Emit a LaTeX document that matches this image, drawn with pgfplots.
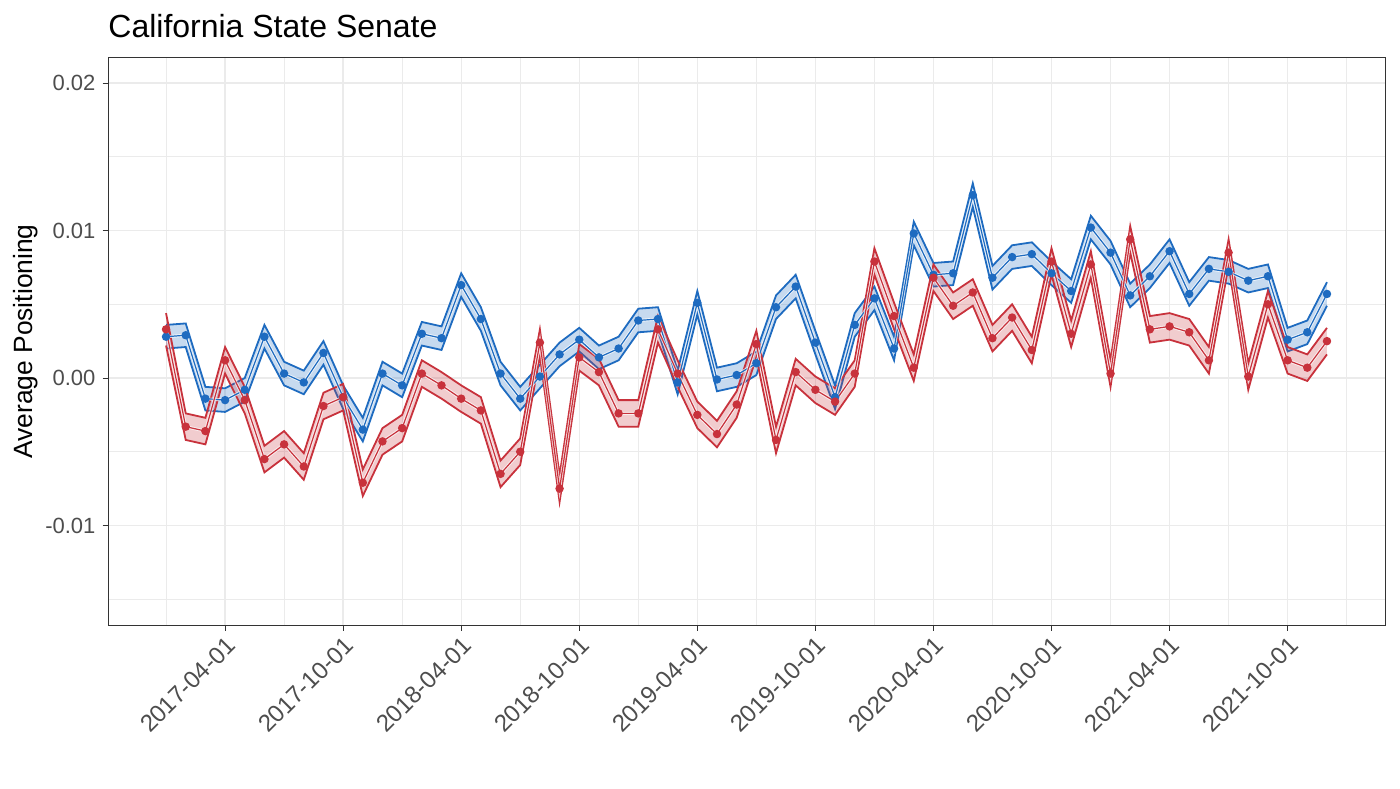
\documentclass[border=0pt]{standalone}
\usepackage{fontspec}
\setmainfont{Liberation Sans}
\usepackage{pgfplots}
\usepackage{pgfplotstable}
\pgfplotsset{compat=1.18}
\definecolor{bl}{RGB}{30,107,192}
\definecolor{rd}{RGB}{200,50,60}
\definecolor{gridc}{RGB}{235,235,235}
\definecolor{axc}{RGB}{51,51,51}
\definecolor{tkc}{RGB}{77,77,77}

\pgfplotstableread{
m b blo bhi
0 0.0028 0.0020 0.0036
1 0.0029 0.0021 0.0037
2 -0.0014 -0.0022 -0.0006
3 -0.0015 -0.0023 -0.0007
4 -0.0008 -0.0016 0.0000
5 0.0028 0.0020 0.0036
6 0.0003 -0.0005 0.0011
7 -0.0003 -0.0011 0.0005
8 0.0017 0.0009 0.0025
9 -0.0013 -0.0021 -0.0005
10 -0.0035 -0.0043 -0.0027
11 0.0003 -0.0005 0.0011
12 -0.0005 -0.0013 0.0003
13 0.0030 0.0022 0.0038
14 0.0027 0.0019 0.0035
15 0.0063 0.0055 0.0071
16 0.0040 0.0032 0.0048
17 0.0003 -0.0005 0.0011
18 -0.0014 -0.0022 -0.0006
19 0.0001 -0.0007 0.0009
20 0.0016 0.0008 0.0024
21 0.0026 0.0018 0.0034
22 0.0014 0.0006 0.0022
23 0.0020 0.0012 0.0028
24 0.0039 0.0031 0.0047
25 0.0040 0.0032 0.0048
26 -0.0003 -0.0011 0.0005
27 0.0051 0.0043 0.0059
28 -0.0001 -0.0009 0.0007
29 0.0002 -0.0006 0.0010
30 0.0010 0.0002 0.0018
31 0.0048 0.0040 0.0056
32 0.0062 0.0054 0.0070
33 0.0024 0.0016 0.0032
34 -0.0013 -0.0021 -0.0005
35 0.0036 0.0028 0.0044
36 0.0054 0.0046 0.0062
37 0.0020 0.0012 0.0028
38 0.0098 0.0090 0.0106
39 0.0070 0.0062 0.0078
40 0.0071 0.0063 0.0079
41 0.0124 0.0116 0.0132
42 0.0068 0.0060 0.0076
43 0.0082 0.0074 0.0090
44 0.0084 0.0076 0.0092
45 0.0071 0.0063 0.0079
46 0.0059 0.0051 0.0067
47 0.0102 0.0094 0.0110
48 0.0085 0.0077 0.0093
49 0.0056 0.0048 0.0064
50 0.0069 0.0061 0.0077
51 0.0086 0.0078 0.0094
52 0.0057 0.0049 0.0065
53 0.0074 0.0066 0.0082
54 0.0072 0.0064 0.0080
55 0.0066 0.0058 0.0074
56 0.0069 0.0061 0.0077
57 0.0026 0.0018 0.0034
58 0.0031 0.0023 0.0039
59 0.0057 0.0049 0.0065
}\bluetab

\pgfplotstableread{
m r rlo rhi
0 0.0033 0.0022 0.0044
1 -0.0033 -0.0042 -0.0024
2 -0.0036 -0.0045 -0.0027
3 0.0012 0.0003 0.0021
4 -0.0015 -0.0024 -0.0006
5 -0.0055 -0.0064 -0.0046
6 -0.0045 -0.0054 -0.0036
7 -0.0060 -0.0069 -0.0051
8 -0.0019 -0.0028 -0.0010
9 -0.0013 -0.0022 -0.0004
10 -0.0071 -0.0080 -0.0062
11 -0.0043 -0.0052 -0.0034
12 -0.0034 -0.0043 -0.0025
13 0.0003 -0.0006 0.0012
14 -0.0005 -0.0014 0.0004
15 -0.0014 -0.0023 -0.0005
16 -0.0022 -0.0031 -0.0013
17 -0.0065 -0.0074 -0.0056
18 -0.0050 -0.0059 -0.0041
19 0.0024 0.0015 0.0033
20 -0.0075 -0.0084 -0.0066
21 0.0014 0.0005 0.0023
22 0.0004 -0.0005 0.0013
23 -0.0024 -0.0033 -0.0015
24 -0.0024 -0.0033 -0.0015
25 0.0033 0.0024 0.0042
26 0.0003 -0.0006 0.0012
27 -0.0025 -0.0034 -0.0016
28 -0.0038 -0.0047 -0.0029
29 -0.0018 -0.0027 -0.0009
30 0.0023 0.0014 0.0032
31 -0.0042 -0.0051 -0.0033
32 0.0004 -0.0005 0.0013
33 -0.0008 -0.0017 0.0001
34 -0.0016 -0.0025 -0.0007
35 0.0003 -0.0006 0.0012
36 0.0079 0.0070 0.0088
37 0.0042 0.0033 0.0051
38 0.0007 -0.0002 0.0016
39 0.0068 0.0059 0.0077
40 0.0049 0.0040 0.0058
41 0.0058 0.0049 0.0067
42 0.0027 0.0018 0.0036
43 0.0041 0.0032 0.0050
44 0.0019 0.0010 0.0028
45 0.0079 0.0070 0.0088
46 0.0030 0.0021 0.0039
47 0.0077 0.0068 0.0086
48 0.0003 -0.0006 0.0012
49 0.0094 0.0085 0.0103
50 0.0033 0.0024 0.0042
51 0.0035 0.0026 0.0044
52 0.0031 0.0022 0.0040
53 0.0012 0.0003 0.0021
54 0.0085 0.0076 0.0094
55 0.0001 -0.0008 0.0010
56 0.0050 0.0041 0.0059
57 0.0012 0.0003 0.0021
58 0.0007 -0.0002 0.0016
59 0.0025 0.0016 0.0034
}\redtab

% ribbon areas as closed polygons: upper bound forward, lower bound backward
\pgfplotstableread{
m y
0 0.0036
1 0.0037
2 -0.0006
3 -0.0007
4 0.0000
5 0.0036
6 0.0011
7 0.0005
8 0.0025
9 -0.0005
10 -0.0027
11 0.0011
12 0.0003
13 0.0038
14 0.0035
15 0.0071
16 0.0048
17 0.0011
18 -0.0006
19 0.0009
20 0.0024
21 0.0034
22 0.0022
23 0.0028
24 0.0047
25 0.0048
26 0.0005
27 0.0059
28 0.0007
29 0.0010
30 0.0018
31 0.0056
32 0.0070
33 0.0032
34 -0.0005
35 0.0044
36 0.0062
37 0.0028
38 0.0106
39 0.0078
40 0.0079
41 0.0132
42 0.0076
43 0.0090
44 0.0092
45 0.0079
46 0.0067
47 0.0110
48 0.0093
49 0.0064
50 0.0077
51 0.0094
52 0.0065
53 0.0082
54 0.0080
55 0.0074
56 0.0077
57 0.0034
58 0.0039
59 0.0065
59 0.0049
58 0.0023
57 0.0018
56 0.0061
55 0.0058
54 0.0064
53 0.0066
52 0.0049
51 0.0078
50 0.0061
49 0.0048
48 0.0077
47 0.0094
46 0.0051
45 0.0063
44 0.0076
43 0.0074
42 0.0060
41 0.0116
40 0.0063
39 0.0062
38 0.0090
37 0.0012
36 0.0046
35 0.0028
34 -0.0021
33 0.0016
32 0.0054
31 0.0040
30 0.0002
29 -0.0006
28 -0.0009
27 0.0043
26 -0.0011
25 0.0032
24 0.0031
23 0.0012
22 0.0006
21 0.0018
20 0.0008
19 -0.0007
18 -0.0022
17 -0.0005
16 0.0032
15 0.0055
14 0.0019
13 0.0022
12 -0.0013
11 -0.0005
10 -0.0043
9 -0.0021
8 0.0009
7 -0.0011
6 -0.0005
5 0.0020
4 -0.0016
3 -0.0023
2 -0.0022
1 0.0021
0 0.0020
}\blueband

\pgfplotstableread{
m y
0 0.0044
1 -0.0024
2 -0.0027
3 0.0021
4 -0.0006
5 -0.0046
6 -0.0036
7 -0.0051
8 -0.0010
9 -0.0004
10 -0.0062
11 -0.0034
12 -0.0025
13 0.0012
14 0.0004
15 -0.0005
16 -0.0013
17 -0.0056
18 -0.0041
19 0.0033
20 -0.0066
21 0.0023
22 0.0013
23 -0.0015
24 -0.0015
25 0.0042
26 0.0012
27 -0.0016
28 -0.0029
29 -0.0009
30 0.0032
31 -0.0033
32 0.0013
33 0.0001
34 -0.0007
35 0.0012
36 0.0088
37 0.0051
38 0.0016
39 0.0077
40 0.0058
41 0.0067
42 0.0036
43 0.0050
44 0.0028
45 0.0088
46 0.0039
47 0.0086
48 0.0012
49 0.0103
50 0.0042
51 0.0044
52 0.0040
53 0.0021
54 0.0094
55 0.0010
56 0.0059
57 0.0021
58 0.0016
59 0.0034
59 0.0016
58 -0.0002
57 0.0003
56 0.0041
55 -0.0008
54 0.0076
53 0.0003
52 0.0022
51 0.0026
50 0.0024
49 0.0085
48 -0.0006
47 0.0068
46 0.0021
45 0.0070
44 0.0010
43 0.0032
42 0.0018
41 0.0049
40 0.0040
39 0.0059
38 -0.0002
37 0.0033
36 0.0070
35 -0.0006
34 -0.0025
33 -0.0017
32 -0.0005
31 -0.0051
30 0.0014
29 -0.0027
28 -0.0047
27 -0.0034
26 -0.0006
25 0.0024
24 -0.0033
23 -0.0033
22 -0.0005
21 0.0005
20 -0.0084
19 0.0015
18 -0.0059
17 -0.0074
16 -0.0031
15 -0.0023
14 -0.0014
13 -0.0006
12 -0.0043
11 -0.0052
10 -0.0080
9 -0.0022
8 -0.0028
7 -0.0069
6 -0.0054
5 -0.0064
4 -0.0024
3 0.0003
2 -0.0045
1 -0.0042
0 0.0022
}\redband

\begin{document}
\begin{tikzpicture}
\path[use as bounding box] (0,0) rectangle (700pt,394pt);
\begin{axis}[
  at={(54pt,81.5pt)}, anchor=south west,
  scale only axis, width=638.5pt, height=283.5pt,
  xmin=-2.95, xmax=61.95, ymin=-0.01675, ymax=0.0217,
  xtick={3,9,...,57},
  xticklabels={2017-04-01,2017-10-01,2018-04-01,2018-10-01,2019-04-01,2019-10-01,2020-04-01,2020-10-01,2021-04-01,2021-10-01},
  minor xtick={0,6,...,60},
  ytick={-0.01,0,0.01,0.02},
  yticklabels={-0.01,0.00,0.01,0.02},
  minor ytick={-0.015,-0.005,0.005,0.015},
  scaled y ticks=false,
  grid=both,
  major grid style={gridc, line width=0.7pt},
  minor grid style={gridc, line width=0.35pt},
  axis line style={axc, line width=0.5pt},
  tick style={axc, line width=0.5pt},
  tick align=outside, major tick length=2.75pt, minor tick length=0pt,
  xtick pos=bottom, ytick pos=left,
  xticklabel style={rotate=45, anchor=north east, font=\fontsize{12}{12}\selectfont, text=tkc, inner sep=1.5pt},
  yticklabel style={font=\fontsize{11}{11}\selectfont, text=tkc},
  ylabel={Average Positioning},
  ylabel shift=-3pt,
  ylabel style={font=\fontsize{13.2}{14}\selectfont},
  title={California State Senate},
  title style={at={(0,1)}, anchor=base west, inner sep=0pt, xshift=0pt, yshift=4pt, font=\fontsize{16}{16}\selectfont},
]
% ribbons
\addplot[fill=bl, fill opacity=0.25, draw=none] table[x=m,y=y]{\blueband};
\addplot[bl, line width=0.9pt] table[x=m,y=bhi]{\bluetab};
\addplot[bl, line width=0.9pt] table[x=m,y=blo]{\bluetab};
\addplot[fill=rd, fill opacity=0.25, draw=none] table[x=m,y=y]{\redband};
\addplot[rd, line width=0.9pt] table[x=m,y=rhi]{\redtab};
\addplot[rd, line width=0.9pt] table[x=m,y=rlo]{\redtab};
% centre lines
\addplot[white, opacity=0.7, line width=1.5pt] table[x=m,y=b]{\bluetab};
\addplot[bl, line width=0.6pt, mark=*, mark size=1.8pt, mark options={fill=bl, draw=none}] table[x=m,y=b]{\bluetab};
\addplot[white, opacity=0.7, line width=1.5pt] table[x=m,y=r]{\redtab};
\addplot[rd, line width=0.6pt, mark=*, mark size=1.8pt, mark options={fill=rd, draw=none}] table[x=m,y=r]{\redtab};
\end{axis}
\end{tikzpicture}
\end{document}
